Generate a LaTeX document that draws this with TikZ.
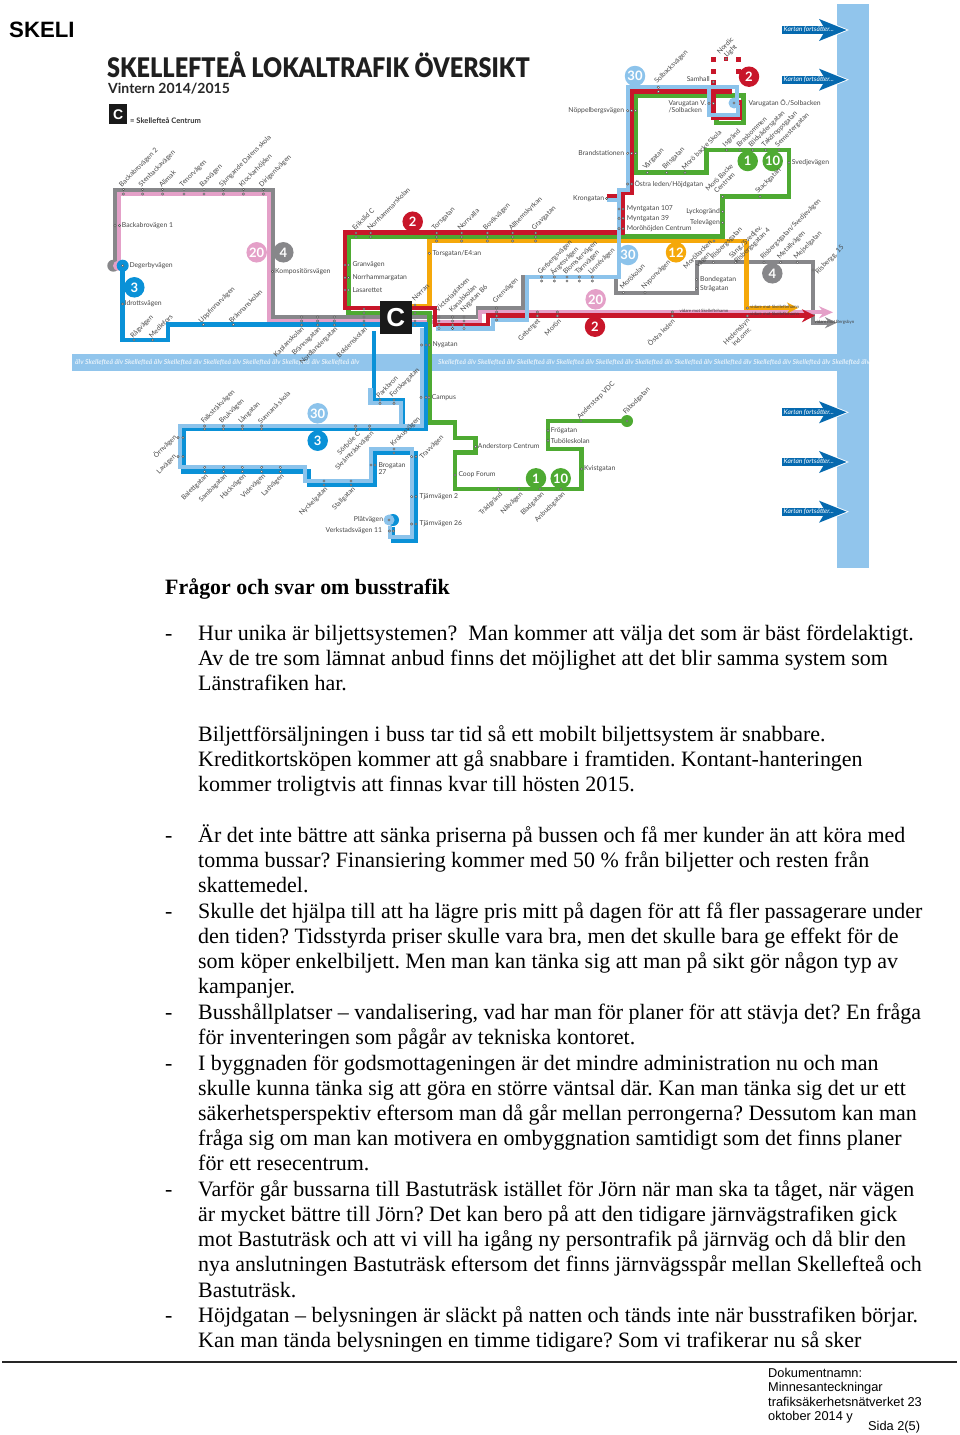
\documentclass[tikz,border=0pt]{standalone}
\usepackage{fontspec}
\usepackage{xcolor}
\usepackage{tikz}
\usetikzlibrary{arrows.meta, positioning}
\setmainfont{Liberation Serif}
\newfontfamily\mapfont{Lato}
\newfontfamily\titlefont{Lato Black}
\newfontfamily\footfont{Liberation Sans}
\definecolor{riverblue}{RGB}{145, 197, 236}
\definecolor{linelight}{RGB}{140, 195, 235}
\definecolor{lineblue}{RGB}{10, 145, 215}
\definecolor{linered}{RGB}{200, 22, 42}
\definecolor{linegreen}{RGB}{78, 170, 50}
\definecolor{lineorange}{RGB}{245, 168, 10}
\definecolor{linegray}{RGB}{135, 135, 138}
\definecolor{linepink}{RGB}{228, 160, 200}
\definecolor{arrowblue}{RGB}{5, 105, 175}
\definecolor{maptext}{RGB}{70, 70, 70}
\tikzset{
  route/.style={line width=4.6pt, line join=miter},
  stopdot/.style={fill=white, draw=maptext, line width=0.4pt},
  stoplabel/.style={font=\mapfont\fontsize{6.8}{7.4}\selectfont, text=maptext, inner sep=0pt},
  stopup/.style={stoplabel, rotate=45, anchor=west},
  stopdown/.style={stoplabel, rotate=45, anchor=east},
  stopright/.style={stoplabel, anchor=west},
  stopleft/.style={stoplabel, anchor=east},
  linenum/.style={circle, minimum size=20.5pt, inner sep=0pt, text=white,
    font=\mapfont\bfseries\fontsize{13}{13}\selectfont},
  further/.style={font=\mapfont\fontsize{4.4}{5}\selectfont, text=black!75, inner sep=0pt, anchor=west},
  riverlabel/.style={font=\mapfont\itshape\bfseries\fontsize{6.8}{7}\selectfont, text=white!75!riverblue, inner sep=0pt, anchor=west},
  bodytext/.style={font=\fontsize{21.95}{25}\selectfont, inner sep=0pt, anchor=base west},
  footnote/.style={font=\footfont\fontsize{12.8}{14}\selectfont, inner sep=0pt, anchor=base west},
}
\frenchspacing
\begin{document}
\begin{tikzpicture}[x=1pt, y=-1pt]
  \useasboundingbox (0,0) rectangle (960,1435);

  % river and map edge
  \fill[riverblue] (72,354) rectangle (869,370.5);
  \fill[riverblue] (837,4) rectangle (869,568);
  \node[riverlabel] (riverleft) at (75,362.5) {älv Skellefteå älv Skellefteå älv Skellefteå älv Skellefteå älv Skellefteå älv Skellefteå älv Skellefteå älv};
  \node[riverlabel] (riverright) at (438,362.5) {Skellefteå älv Skellefteå älv Skellefteå älv Skellefteå älv Skellefteå älv Skellefteå älv Skellefteå älv Skellefteå älv Skellefteå älv Skellefteå älv Skellefteå älv};

  % heading of the map
  \node[inner sep=0pt, anchor=base west, text=black!88, xscale=0.868, font=\titlefont\fontsize{27}{30}\selectfont] (maptitle) at (107,77) {SKELLEFTEÅ LOKALTRAFIK ÖVERSIKT};
  \node[inner sep=0pt, anchor=base west, text=black!85, font=\mapfont\bfseries\fontsize{14}{15}\selectfont] (mapyear) at (108,93) {Vintern 2014/2015};
  \node[fill=black!90, text=white, font=\footfont\bfseries\fontsize{14}{14}\selectfont, minimum width=18pt, minimum height=19.5pt, inner sep=0pt] (legendc) at (118.3,114.2) {C};
  \node[inner sep=0pt, anchor=base west, text=black!80, font=\mapfont\bfseries\fontsize{7.6}{8}\selectfont] (legendtext) at (130,123) {= Skellefteå Centrum};

  % gray and pink
  \draw[route, linegray, line width=4pt] (114.5,265) -- (114.5,189.5) -- (272.5,189.5) -- (272.5,316.5) -- (385,316.5);
  \draw[route, linepink, line width=4pt] (119,265) -- (119,194) -- (268.5,194) -- (268.5,321) -- (385,321);
  \draw[route, linegray, line width=4pt, -{Stealth[length=12pt,width=11pt]}] (405,316.7) -- (478,316.7) -- (478,308) -- (523,308) -- (523,276.7) -- (615.7,276.7) -- (615.7,292.7) -- (696.7,292.7) -- (696.7,262.3) -- (813,262.3) -- (813,322.7) -- (837,322.7);
  \draw[route, linepink, line width=4pt, -{Stealth[length=14pt,width=12pt]}] (405,321.5) -- (480,321.5) -- (480,312.3) -- (833,312.3);

  % green
  \draw[route, linegreen] (395,313) -- (348.3,313) -- (348.3,236.7) -- (722.7,236.7) -- (722.7,196.7) -- (789,196.7) -- (789,150) -- (706.7,150) -- (706.7,172.7) -- (635.7,172.7) -- (635.7,95.7) -- (743.3,95.7) -- (743.3,123) -- (716.7,123) -- (716.7,116);
  \draw[route, linegreen] (405,313) -- (429.3,313) -- (429.3,422.7) -- (455,422.7) -- (455,438) -- (475.7,438) -- (475.7,452.7) -- (455,452.7) -- (455,489) -- (581.7,489) -- (581.7,449) -- (548,449) -- (548,421) -- (627,421);
  \fill[linegreen] (627,421) circle (6);

  % orange
  \draw[route, lineorange, -{Stealth[length=11pt,width=11pt]}] (746.7,241) -- (746.7,308) -- (798,308);
  \draw[route, lineorange] (400,306) -- (429.3,306) -- (429.3,241) -- (746.7,241);

  % red
  \draw[route, linered, -{Stealth[length=13pt,width=13pt]}] (731.7,91.7) -- (631.7,91.7) -- (631.7,192.7) -- (623,192.7) -- (623,232.7) -- (345,232.7) -- (345,308) -- (435,308) -- (435,325) -- (488,325) -- (488,315.7) -- (815,315.7);
  \draw[route, linered] (713.3,92) -- (713.3,118) -- (740,118) -- (740,100);
  \foreach \dx/\dy in {713.3/59.3,726/59,738.3/59.3,713.3/71.7,738.7/71.7,713.3/82.7}
    \fill[linered] (\dx-2.3,\dy-2.3) rectangle (\dx+2.3,\dy+2.3);
  \draw[route, linered] (606.7,196.7) -- (617,196.7);

  % dark blue
  \draw[route, lineblue] (122.7,265) -- (122.7,340) -- (168,340) -- (168,324.7) -- (426,324.7) -- (426,429) -- (183.3,429) -- (183.3,471.7) -- (309,471.7) -- (309,485) -- (375,485) -- (375,453) -- (416,453) -- (416,541) -- (393,541) -- (393,527);
  \draw[route, lineblue] (374,331) -- (374,400) -- (403,400) -- (403,424);
  \fill[lineblue] (393,520) circle (6);

  % light blue
  \draw[route, linelight, line width=4.2pt] (635,87.3) -- (627.7,87.3) -- (627.7,190) -- (619,190) -- (619,277) -- (527,277) -- (527,320) -- (493,320) -- (493,328.5) -- (436,328.5);
  \draw[route, linelight, line width=4.2pt] (627.7,87.3) -- (736.7,87.3) -- (736.7,103);
  \draw[route, linelight, line width=4.2pt] (709,87.3) -- (709,115) -- (738,115) -- (738,105);
  \draw[route, linelight, line width=4.2pt] (606.7,200.3) -- (617,200.3);
  \draw[route, linelight, line width=4.2pt] (421.7,328) -- (421.7,425.7) -- (180,425.7) -- (180,467.3) -- (305,467.3) -- (305,481) -- (371,481) -- (371,449) -- (411.7,449) -- (411.7,536.7) -- (390,536.7) -- (390,526);
  \draw[route, linelight, line width=4.2pt] (370.5,388) -- (370.5,403.3) -- (401,403.3) -- (401,424);
  \fill[linelight] (734,103) circle (5.5);
  \fill[linelight] (389,520) circle (5.5);

  % centre box
  \node[fill=black!90, text=white, font=\footfont\bfseries\fontsize{26}{26}\selectfont, minimum width=31.7pt, minimum height=33.3pt, inner sep=0pt] (centre) at (395.8,317.3) {C};

  % line numbers
  \node[linenum, fill=lineblue] (three) at (134.3,287.3) {3};
  \node[linenum, fill=linepink] (twenty) at (256.7,252.3) {20};
  \node[linenum, fill=linegray] (four) at (283.3,252.3) {4};
  \node[linenum, fill=linered] (two) at (412.7,221.7) {2};
  \node[linenum, fill=linelight] (thirty) at (635,76) {30};
  \node[linenum, fill=linered] (twonorth) at (749,76.7) {2};
  \node[linenum, fill=linegreen] (one) at (747.7,161) {1};
  \node[linenum, fill=linegreen] (ten) at (772.7,161) {10};
  \node[linenum, fill=linelight] (thirtymid) at (628,255) {30};
  \node[linenum, fill=lineorange] (twelve) at (676,252.3) {12};
  \node[linenum, fill=linegray] (foureast) at (772.3,273.3) {4};
  \node[linenum, fill=linepink] (twentyeast) at (595.7,299.3) {20};
  \node[linenum, fill=linered] (twoeast) at (595,326.7) {2};
  \node[linenum, fill=linelight] (thirtysouth) at (317.7,413.3) {30};
  \node[linenum, fill=lineblue] (threesouth) at (317.7,440.7) {3};
  \node[linenum, fill=linegreen] (onesouth) at (536,478.3) {1};
  \node[linenum, fill=linegreen] (tensouth) at (560.7,478.3) {10};

  % the start at Degerbyvägen
  \fill[linegray] (113.3,265.7) circle (6);
  \fill[linepink] (118,265.7) circle (5);
  \fill[lineblue] (122.7,265.7) circle (6);

  % stops
  \foreach \sx in {123.3,142.7,162.7,184,204,223.3,243.3,263.3}
    \foreach \sy in {189.5,194} \filldraw[stopdot] (\sx,\sy) circle (1.2);
  \foreach \sx in {301.7,317.7,334.3,364}
    \foreach \sy in {317,321,325} \filldraw[stopdot] (\sx,\sy) circle (1.2);
  \foreach \sx in {356,370.7,436.7,461.7,487.3,512.7,535.7}
    \foreach \sy in {233,237} \filldraw[stopdot] (\sx,\sy) circle (1.2);
  \foreach \sx in {436.7,461.7,487.3,512.7,535.7} \filldraw[stopdot] (\sx,241) circle (1.2);
  \foreach \sy in {265,277.7,290} {
    \filldraw[stopdot] (345,\sy) circle (1.2);
    \filldraw[stopdot] (348.5,\sy) circle (1.2);
  }
  \foreach \sy in {305,313,321,325} \filldraw[stopdot] (415,\sy) circle (1.2);
  \filldraw[stopdot] (364,309) circle (1.2);
  \filldraw[stopdot] (364,313) circle (1.2);
  \foreach \sx in {421.7,426,429.3} \filldraw[stopdot] (\sx,345) circle (1.2);
  \foreach \sx in {439,452.7,464}
    \foreach \sy in {317,321,325,328.5} \filldraw[stopdot] (\sx,\sy) circle (1.2);
  \foreach \sy in {308,312,316,320} \filldraw[stopdot] (496.7,\sy) circle (1.2);
  \foreach \sx in {541.7,554.3,567,579.3,592.3}
    \foreach \sy in {277,281} \filldraw[stopdot] (\sx,\sy) circle (1.2);
  \foreach \sx in {537.3,557.3,672.3}
    \foreach \sy in {312,316} \filldraw[stopdot] (\sx,\sy) circle (1.2);
  \foreach \sx in {623.3,645} \filldraw[stopdot] (\sx,292.7) circle (1.2);
  \foreach \sx in {713.3,735.7,764,780.7,797.3} \filldraw[stopdot] (\sx,262.3) circle (1.2);
  \foreach \sy in {308,316} \filldraw[stopdot] (747.3,\sy) circle (1.2);
  \foreach \sx/\sy in {115/225.7,119.5/225.7,122.7/265.7,122.7/304,134/340,152.7/340,203.3/324.7,233.3/324.7,272.5/271.3,429.3/253.3,714/241,813/270,696.7/279.3,696.7/288.3,658.3/87.3,658.3/91.7,726/59,713.3/82,
    627.7/110.7,631.7/110.7,635.7/110.7,627.7/153.3,631.7/153.3,635.7/153.3,627.7/184,631.7/184,606.7/198.5,619/209,623/209,619/218.3,623/218.3,619/228.7,623/228.7,709/103.3,713.3/103.3,734/103,
    647.3/172.7,666.7/172.7,685/172.7,726.7/150,740/150,752.7/150,765.7/150,779/150,789/162.7,722.7/196.7,760/196.7,722.7/211.7,722.7/222.7,
    380/400,380/403.3,394/400,394/403.3,421/397.3,426/397.3,429/397.3,355.7/426,355.7/429,369.7/426,369.7/429,394/449,394/453,411.7/456.7,416/456.7,371/465,375/465,411.7/496.7,416/496.7,411.7/524,416/524,389/520,389.3/531,393.3/531,
    204.7/426,204.7/429,223.3/426,223.3/429,242.3/426,242.3/429,261.7/426,261.7/429,178/437.7,183/437.7,178/456.7,183/456.7,
    204.7/467.3,204.7/471.7,223.7/467.3,223.7/471.7,242.3/467.3,242.3/471.7,261.7/467.3,261.7/471.7,280.3/467.3,280.3/471.7,324/481,324/485,351/481,351/485,
    475.7/446.7,455/475,548/430.7,548/440.7,581.7/469,581/421,627/421,498.3/489,519/489,540/489,561/489}
    \filldraw[stopdot] (\sx,\sy) circle (1.2);

  % names slanting up from the line
  \foreach \lx/\ly/\name [count=\i] in {
    120.5/186/Backabrovägen 2, 140/186/Stenbackavägen, 160/186/Alimak, 181/186/Tenorvägen, 201/186/Basvägen, 220.5/186/Sjungande Dalens skola, 240.5/186/Klockarhöjden, 260.5/186/Dirigentvägen,
    131.7/337/Rågvägen, 150/337/Medlefors, 200/322/Uppfinnarvägen, 230/322/Brännanskolan,
    353.3/229.3/Erikslid C, 368.3/229.3/Norrhammarskolan, 433.3/229.3/Torsgatan, 458.5/229.3/Norrvalla, 484.5/229.3/Bovikvägen, 510/229.3/Allhemskyrkan, 533/229.3/Gravgatan,
    413/300/Norran, 436.7/311/Victoriaplatsen, 450/311/Kanalskolan, 461.7/311/Nygatan B6, 494/302/Grenvägen,
    539/273.7/Gerbergsvägen, 551.5/273.7/Ängesvägen, 564.5/273.7/Blomstervägen, 576.5/273.7/Tärnvägen, 589.5/273.7/Linnévägen,
    620.7/288.3/Morökolan, 642.7/288.3/Nyponvägen, 711.7/258.3/Risbergsgatan, 761.7/258.3/{Risbergsgatan/Svedjevägen}, 778.3/258.3/Metallvägen, 795/258.3/Mejselgatan, 816.7/273/Risbergg. 15,
    655.7/82.7/Solbacksvägen, 644/168.7/Vårgatan, 663.7/168.7/Brisgatan, 682.7/168.7/Morö backe Skola, 724/146/Isgränd, 737.5/146/Brasbommen, 750/146/Blidvädersgatan, 763/146/Takdroppsgatan, 776.5/146/Semestergatan, 756.7/192.7/Stackgatan,
    377.3/396.7/Parkbron, 391/396.7/Forskargatan, 202.3/422.7/Falkstråkvägen, 220.5/422.7/Brukvägen, 239.5/422.7/Långatan, 259/422.7/Sunnanå skola, 391.7/445.5/Krokusvägen, 421/458/Travvägen,
    578.3/418.3/Anderstorp VDC, 624.3/413.3/Fäbodgatan}
    \node[stopup] (up\i) at (\lx,\ly) {\name};

  % names slanting down from the line
  \foreach \lx/\ly/\name [count=\i] in {
    303/328/Kaplanskolan, 320/328/Brännagatan, 336.7/328/Nordlandergatan, 366/328/Boldenskolan,
    539.3/320/Geberget, 560/320/Morön, 673.3/320/Östra leden,
    175.5/436/Örnvägen, 175.5/455.5/Lavägen, 359/432.7/Sörböle C, 372.7/432.7/Skråmträskvägen,
    207/475/Balettgatan, 226/475/Sambagatan, 245/475/Häckvägen, 264.5/475/Videvägen, 283/475/Ladvägen, 326.7/488.3/Nyckelgatan, 354.3/488.3/Stallgatan,
    501.7/493.3/Trädgränd, 521.7/493.3/Nålvägen, 543/493.3/Bladgatan, 564/493.3/Anbudsgatan}
    \node[stopdown] (down\i) at (\lx,\ly) {\name};

  % names set straight
  \foreach \lx/\ly/\name [count=\i] in {
    121.7/225.7/Backabrovägen 1, 129.3/265.7/Degerbyvägen, 124.5/304/Idrottsvägen, 275/271.3/Kompositörsvägen,
    352.3/265/Granvägen, 352.3/277.7/Norrhammargatan, 352.3/290/Lasarettet, 432.3/253.3/{Torsgatan/E4:an}, 432.3/345/Nygatan,
    700/279.3/Bondegatan, 700/288.3/Strågatan, 634.3/184/{Östra leden/Höjdgatan}, 626.7/209/Myntgatan 107, 626.7/218.3/Myntgatan 39, 626.7/228.7/Moröhöjden Centrum,
    748.3/103.3/{Varugatan Ö./Solbacken}, 791.7/162.7/Svedjevägen,
    431.7/397.3/Campus, 419.3/496.7/Tjärnvägen 2, 419.3/524/Tjärnvägen 26,
    477.7/446.7/Anderstorp Centrum, 458.3/475/Coop Forum, 550.7/430.7/Frögatan, 550.7/440.7/Tuböleskolan, 584/469/Kvistgatan}
    \node[stopright] (right\i) at (\lx,\ly) {\name};
  \foreach \lx/\ly/\name [count=\i] in {
    710/79.3/Samhall, 624.3/110.7/Nöppelbergsvägen, 624.3/153.3/Brandstationen, 604.3/198.3/Krongatan, 720/211.7/Lyckogränd, 720/222.7/Televägen,
    383.3/520/Plåtvägen, 382.3/530.7/Verkstadsvägen 11}
    \node[stopleft] (left\i) at (\lx,\ly) {\name};

  % names on two lines
  \node[stoplabel, align=left, anchor=north west] (varugatanv) at (668.3,100) {Varugatan V.\\/Solbacken};
  \node[stoplabel, align=left, anchor=north west] (brogatan) at (378.3,462) {Brogatan\\27};
  \node[stopup, align=center] (nordic) at (721,56) {Nordic\\Light};
  \node[stopup, align=center] (marobacke) at (709,193) {Morö Backe\\Centrum};
  \node[stopup, align=left] (sang) at (733,260) {Sång./Svedjev.\\Risbergsgatan 4};
  \node[stopdown, align=center] (marobacken) at (714,244) {Moröbacken\\vägen};
  \node[stopdown, align=center] (hedensbyn) at (751,322) {Hedensbyn\\ind.omr.};

  % where the lines go on
  \node[further] (towardorange) at (750,307.3) {vidare mot Skelleftehamn};
  \node[further] (towardpink) at (679.3,311) {vidare mot Skelleftehamn};
  \node[further] (towardred) at (750,314) {vidare mot Skelleftehamn};
  \node[further] (towardgray) at (814.3,322.7) {vidare mot Bergsbyn};

  % the map goes on
  \foreach \ay [count=\i] in {30,79.7,412.3,462,511.7} {
    \draw[white, line width=10pt, -{Stealth[length=30pt,width=24pt,inset=6pt]}] (782,\ay) -- (849,\ay);
    \draw[arrowblue, line width=8pt, -{Stealth[length=27pt,width=21pt,inset=6pt]}] (782,\ay) -- (846.7,\ay);
    \node[inner sep=0pt, anchor=west, text=white, font=\mapfont\itshape\fontsize{6.6}{7}\selectfont] (onward\i) at (783.5,\ay) {Kartan fortsätter...};
  }

  % page text
  \node[inner sep=0pt, anchor=base west, font=\footfont\bfseries\fontsize{22.2}{24}\selectfont] (pagehead) at (9,37) {SKELI};
  \node[bodytext, font=\bfseries\fontsize{21.9}{25}\selectfont] (question) at (165,594) {Frågor och svar om busstrafik};

  \foreach \by in {640,842,918,1019,1070,1196,1322}
    \node[bodytext] (dash\by) at (165,\by) {-};

  \foreach \by/\line in {
    640/{Hur unika är biljettsystemen?\ \ Man kommer att välja det som är bäst fördelaktigt.},
    665/{Av de tre som lämnat anbud finns det möjlighet att det blir samma system som},
    690/{Länstrafiken har.},
    741/{Biljettförsäljningen i buss tar tid så ett mobilt biljettsystem är snabbare.},
    766/{Kreditkortsköpen kommer att gå snabbare i framtiden. Kontant-hanteringen},
    791/{kommer troligtvis att finnas kvar till hösten 2015.},
    842/{Är det inte bättre att sänka priserna på bussen och få mer kunder än att köra med},
    867/{tomma bussar? Finansiering kommer med 50 \% från biljetter och resten från},
    892/{skattemedel.},
    918/{Skulle det hjälpa till att ha lägre pris mitt på dagen för att få fler passagerare under},
    943/{den tiden? Tidsstyrda priser skulle vara bra, men det skulle bara ge effekt för de},
    968/{som köper enkelbiljett. Men man kan tänka sig att man på sikt gör någon typ av},
    993/{kampanjer.},
    1019/{Busshållplatser – vandalisering, vad har man för planer för att stävja det? En fråga},
    1044/{för inventeringen som pågår av tekniska kontoret.},
    1070/{I byggnaden för godsmottageningen är det mindre administration nu och man},
    1095/{skulle kunna tänka sig att göra en större väntsal där. Kan man tänka sig det ur ett},
    1120/{säkerhetsperspektiv eftersom man då går mellan perrongerna? Dessutom kan man},
    1145/{fråga sig om man kan motivera en ombyggnation samtidigt som det finns planer},
    1170/{för ett resecentrum.},
    1196/{Varför går bussarna till Bastuträsk istället för Jörn när man ska ta tåget, när vägen},
    1221/{är mycket bättre till Jörn? Det kan bero på att den tidigare järnvägstrafiken gick},
    1246/{mot Bastuträsk och att vi vill ha igång ny persontrafik på järnväg och då blir den},
    1271/{nya anslutningen Bastuträsk eftersom det finns järnvägsspår mellan Skellefteå och},
    1297/{Bastuträsk.},
    1322/{Höjdgatan – belysningen är släckt på natten och tänds inte när busstrafiken börjar.},
    1347/{Kan man tända belysningen en timme tidigare? Som vi trafikerar nu så sker}}
    \node[bodytext] (line\by) at (198,\by) {\line};

  % footer
  \draw[black!85, line width=1.2pt] (2,1362) -- (957,1362);
  \node[footnote] (docname) at (768,1377) {Dokumentnamn:};
  \node[footnote] (docnotes) at (768,1391.5) {Minnesanteckningar};
  \node[footnote] (docnet) at (768,1406) {trafiksäkerhetsnätverket 23};
  \node[footnote] (docdate) at (768,1420.5) {oktober 2014 y};
  \node[footnote] (docpage) at (868,1430.5) {Sida 2(5)};
\end{tikzpicture}
\end{document}
